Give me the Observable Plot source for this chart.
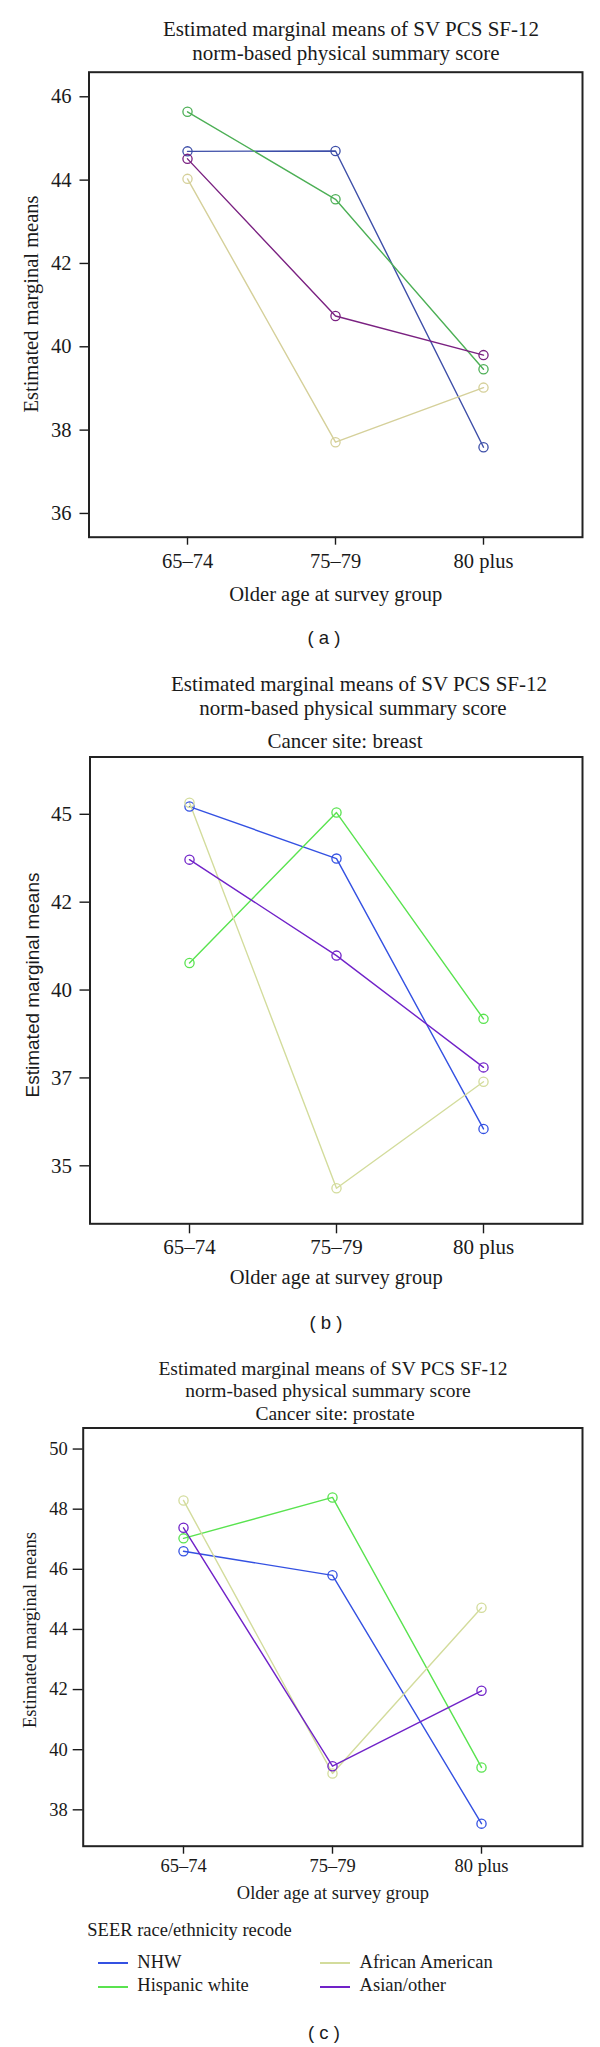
<!DOCTYPE html>
<html><head><meta charset="utf-8">
<script src="https://cdn.jsdelivr.net/npm/d3@7"></script>
<script src="https://cdn.jsdelivr.net/npm/@observablehq/plot@0.6"></script>
<style>
html,body{margin:0;padding:0;background:#fff;}
#page{position:relative;width:600px;height:2047px;overflow:hidden;background:#fff;}
.t{position:absolute;white-space:nowrap;color:#1a1a1a;}
.wrap{position:absolute;left:0;}
.sw{position:absolute;height:2px;}
</style></head><body><div id="page"></div>
<script>
// ---- data ----
const ageGroups = ["65–74", "75–79", "80 plus"];
const seriesNames = ["NHW", "Hispanic white", "African American", "Asian/other"];

// Panel (a): all sites
const a_NHW = [44.69, 44.70, 37.59];
const a_Hispanic = [45.64, 43.54, 39.46];
const a_African = [44.03, 37.71, 39.02];
const a_Asian = [44.51, 40.74, 39.80];
const a_yTicks = [36, 38, 40, 42, 44, 46];
const a_yTickLabels = ["36", "38", "40", "42", "44", "46"];

// Panel (b): breast
const b_NHW = [45.22, 43.74, 36.05];
const b_Hispanic = [40.77, 45.05, 39.18];
const b_African = [45.33, 34.36, 37.39];
const b_Asian = [43.71, 40.98, 37.80];
const b_yTicks = [35, 37.5, 40, 42.5, 45];
const b_yTickLabels = ["35", "37", "40", "42", "45"];

// Panel (c): prostate
const c_NHW = [46.60, 45.80, 37.54];
const c_Hispanic = [47.03, 48.39, 39.41];
const c_African = [48.29, 39.21, 44.72];
const c_Asian = [47.38, 39.45, 41.96];
const c_yTicks = [38, 40, 42, 44, 46, 48, 50];
const c_yTickLabels = ["38", "40", "42", "44", "46", "48", "50"];

const colorsA = ["#3d4ea8", "#4caf55", "#d5d09a", "#7a2181"];
const colorsBC = ["#3451e2", "#59e34f", "#d3dc9c", "#7022c8"];

const titleLine1 = "Estimated marginal means of SV PCS SF-12";
const titleLine2 = "norm-based physical summary score";
const xLabel = "Older age at survey group";
const yLabel = "Estimated marginal means";
const legendTitle = "SEER race/ethnicity recode";

// ---- helpers ----
const page = document.getElementById("page");
const SERIF = "'Liberation Serif', 'Times New Roman', serif";
const SANS = "'Liberation Sans', Arial, sans-serif";
function addText(str, {x, baseline, size, family = SERIF, anchor = "middle"}) {
  const d = document.createElement("div");
  d.className = "t";
  d.textContent = str;
  const k = family === SANS ? 0.8465 : 0.8375;
  d.style.fontFamily = family;
  d.style.fontSize = size + "px";
  d.style.lineHeight = size + "px";
  d.style.top = (baseline - k * size) + "px";
  d.style.left = x + "px";
  if (anchor === "middle") d.style.transform = "translateX(-50%)";
  page.appendChild(d);
}
function addVText(str, {cx, cy, size, family = SERIF}) {
  const d = document.createElement("div");
  d.className = "t";
  d.textContent = str;
  d.style.fontFamily = family;
  d.style.fontSize = size + "px";
  d.style.lineHeight = size + "px";
  d.style.left = cx + "px";
  d.style.top = cy + "px";
  d.style.transform = "translate(-50%,-50%) rotate(-90deg)";
  page.appendChild(d);
}

function panel(cfg) {
  const data = [];
  seriesNames.forEach((s, si) => cfg.values[si].forEach((v, i) => data.push({age: ageGroups[i], series: s, value: v})));
  const H = cfg.svgBottom - cfg.svgTop;
  const plot = Plot.plot({
    width: 600, height: H,
    marginLeft: cfg.frameLeft, marginRight: 600 - cfg.frameRight,
    marginTop: cfg.frameTop - cfg.svgTop, marginBottom: cfg.svgBottom - cfg.frameBottom,
    style: {fontFamily: SERIF, fontSize: cfg.tickFont + "px", color: "#1a1a1a", background: "transparent", overflow: "visible"},
    x: {type: "point", domain: ageGroups, padding: 2 / 3},
    y: {domain: cfg.yDomain},
    color: {domain: seriesNames, range: cfg.colors},
    marks: [
      Plot.axisY({ticks: cfg.yTicks, tickFormat: d => cfg.yTickLabels[cfg.yTicks.indexOf(d)], tickSize: cfg.yTickSize, tickPadding: cfg.yTickPadding, label: null, strokeWidth: 1.4, fontSize: cfg.tickFont}),
      Plot.axisX({tickSize: cfg.xTickSize, tickPadding: cfg.xTickPadding, label: null, strokeWidth: 1.4, fontSize: cfg.tickFont}),
      Plot.line(data, {x: "age", y: "value", z: "series", stroke: "series", strokeWidth: 1.4}),
      Plot.dot(data, {x: "age", y: "value", stroke: "series", r: 4.6, strokeWidth: 1.3}),
      Plot.frame({stroke: "#222", strokeWidth: 2}),
      Plot.text([xLabel], {frameAnchor: "bottom", textAnchor: "middle", dy: cfg.xLabelBaseline - cfg.frameBottom, lineAnchor: "bottom", text: d => d, fontSize: cfg.labelFont, fill: "#1a1a1a"})
    ]
  });
  const w = document.createElement("div");
  w.className = "wrap";
  w.style.top = cfg.svgTop + "px";
  w.appendChild(plot);
  page.appendChild(w);
  addVText(yLabel, {cx: cfg.yLabelX, cy: (cfg.frameTop + cfg.frameBottom) / 2 + (cfg.yLabelShift || 0), size: cfg.yLabelFont, family: cfg.yLabelFamily});
}

// ---- panel (a) ----
addText(titleLine1, {x: 351, baseline: 36.7, size: 21});
addText(titleLine2, {x: 346, baseline: 60.5, size: 21});
panel({
  values: [a_NHW, a_Hispanic, a_African, a_Asian], colors: colorsA,
  yDomain: [35.43, 46.59], yTicks: a_yTicks, yTickLabels: a_yTickLabels,
  svgTop: 62, svgBottom: 612, frameTop: 71.7, frameBottom: 536.7, frameLeft: 88.5, frameRight: 582,
  tickFont: 20.5, yTickSize: 9, yTickPadding: 8.5, xTickSize: 8, xTickPadding: 8.7,
  labelFont: 20.5, xLabelBaseline: 600, yLabelX: 31, yLabelFont: 20.5, yLabelFamily: SERIF
});
addText("( a )", {x: 324, baseline: 645, size: 18.5, family: SANS});

// ---- panel (b) ----
addText(titleLine1, {x: 359, baseline: 691.7, size: 21});
addText(titleLine2, {x: 353, baseline: 715.3, size: 21});
addText("Cancer site: breast", {x: 345, baseline: 748.5, size: 21});
panel({
  values: [b_NHW, b_Hispanic, b_African, b_Asian], colors: colorsBC,
  yDomain: [33.35, 46.63], yTicks: b_yTicks, yTickLabels: b_yTickLabels,
  svgTop: 752, svgBottom: 1295, frameTop: 756.5, frameBottom: 1223.3, frameLeft: 89.5, frameRight: 582,
  tickFont: 21, yTickSize: 10, yTickPadding: 8, xTickSize: 10, xTickPadding: 4.8,
  labelFont: 20.5, xLabelBaseline: 1283, yLabelX: 31.5, yLabelFont: 19, yLabelFamily: SANS, yLabelShift: -5
});
addText("( b )", {x: 326, baseline: 1330, size: 18.5, family: SANS});

// ---- panel (c) ----
addText(titleLine1, {x: 333, baseline: 1375, size: 19.5});
addText(titleLine2, {x: 328, baseline: 1397.3, size: 19.5});
addText("Cancer site: prostate", {x: 335, baseline: 1420, size: 19.5});
panel({
  values: [c_NHW, c_Hispanic, c_African, c_Asian], colors: colorsBC,
  yDomain: [36.79, 50.7], yTicks: c_yTicks, yTickLabels: c_yTickLabels,
  svgTop: 1422, svgBottom: 1910, frameTop: 1427.5, frameBottom: 1845.7, frameLeft: 82.7, frameRight: 582,
  tickFont: 18.5, yTickSize: 10, yTickPadding: 5.5, xTickSize: 8, xTickPadding: 4.9,
  labelFont: 18.5, xLabelBaseline: 1898.3, yLabelX: 30, yLabelFont: 18.5, yLabelFamily: SERIF, yLabelShift: -7
});

// legend
addText(legendTitle, {x: 87.3, baseline: 1936.7, size: 18.5, anchor: "start"});
const legendPos = [
  {sx: 98, tx: 137.3, y: 1963.3, b: 1968.5},
  {sx: 98, tx: 137.3, y: 1986.7, b: 1991.7},
  {sx: 320, tx: 359.6, y: 1963.3, b: 1968.5},
  {sx: 320, tx: 359.6, y: 1986.7, b: 1991.7}
];
seriesNames.forEach((s, i) => {
  const p = legendPos[i];
  const sw = document.createElement("div");
  sw.className = "sw";
  sw.style.left = p.sx + "px";
  sw.style.width = "30px";
  sw.style.top = (p.y - 1) + "px";
  sw.style.background = colorsBC[i];
  page.appendChild(sw);
  addText(s, {x: p.tx, baseline: p.b, size: 18.5, anchor: "start"});
});
addText("( c )", {x: 324, baseline: 2040, size: 18.5, family: SANS});
</script>
</body></html>
